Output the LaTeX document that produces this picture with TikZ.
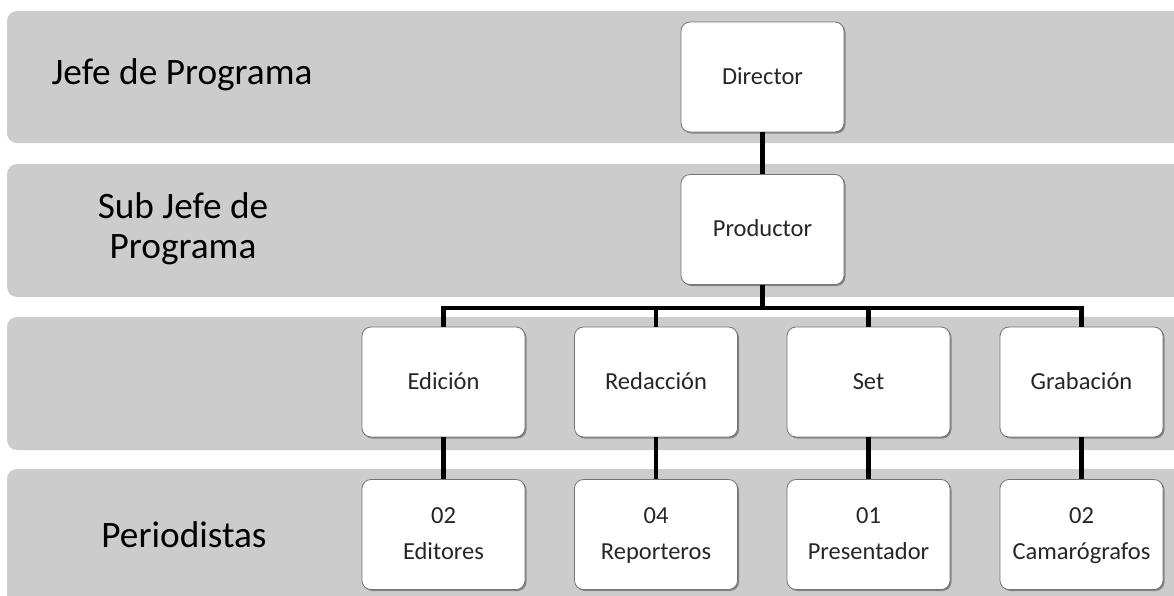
\documentclass[tikz,border=0pt]{standalone}
\usepackage{fontspec}
\setmainfont{Carlito}
\usetikzlibrary{shadows}
\newcommand{\bx}[1]{\strut#1}
\newcommand{\bxx}[2]{\strut#1\\\strut#2}
\tikzset{
  band/.style={fill=black!20, rounded corners=10pt},
  lbl/.style={font=\fontsize{37.3}{40}\selectfont, align=center, text=black},
  orgbox/.style={draw=black!55, line width=0.8pt, fill=white, rounded corners=9pt,
    minimum width=163pt, minimum height=110pt, inner sep=0pt,
    font=\fontsize{24.5}{36}\selectfont, align=center, text=black!85,
    drop shadow={shadow xshift=1.5pt, shadow yshift=-1.5pt, opacity=0.35, fill=black}},
  conn/.style={line width=4.5pt, black}
}
\begin{document}
\begin{tikzpicture}[x=1pt,y=-1pt]
\useasboundingbox (0,0) rectangle (1174,595);
\clip (0,0) rectangle (1174,595);
\fill[white] (0,0) rectangle (1174,595);
% bands
\fill[band] (7,11) rectangle (1200,143);
\fill[band] (7,164) rectangle (1200,297);
\fill[band] (7,317) rectangle (1200,450);
\fill[band] (7,469) rectangle (1200,630);
% band labels
\node[lbl] (l1) at (182,75) {Jefe de Programa};
\node[lbl] (l2) at (183,229) {Sub Jefe de\\Programa};
\node[lbl] (l4) at (184,535) {Periodistas};
% boxes
\node[orgbox] (dir) at (762.5,77) {\bx{Director}};
\node[orgbox] (prod) at (762.5,229.5) {\bx{Productor}};
\node[orgbox] (ed) at (443.5,382) {\bx{Edición}};
\node[orgbox] (red) at (656,382) {\bx{Redacción}};
\node[orgbox] (set) at (868.5,382) {\bx{Set}};
\node[orgbox] (gra) at (1081.5,382) {\bx{Grabación}};
\node[orgbox] (edp) at (443.5,534.5) {\bxx{02}{Editores}};
\node[orgbox] (redp) at (656,534.5) {\bxx{04}{Reporteros}};
\node[orgbox] (setp) at (868.5,534.5) {\bxx{01}{Presentador}};
\node[orgbox] (grap) at (1081.5,534.5) {\bxx{02}{Camarógrafos}};
\coordinate (bus) at (762.5,308);
% connectors
\draw[conn] (dir.south) -- (prod.north);
\draw[conn] (prod.south) -- (bus);
\draw[conn] (ed.north) |- (bus);
\draw[conn] (red.north) |- (bus);
\draw[conn] (set.north) |- (bus);
\draw[conn] (gra.north) |- (bus);
\draw[conn] (ed.south) -- (edp.north);
\draw[conn] (red.south) -- (redp.north);
\draw[conn] (set.south) -- (setp.north);
\draw[conn] (gra.south) -- (grap.north);
\end{tikzpicture}
\end{document}
